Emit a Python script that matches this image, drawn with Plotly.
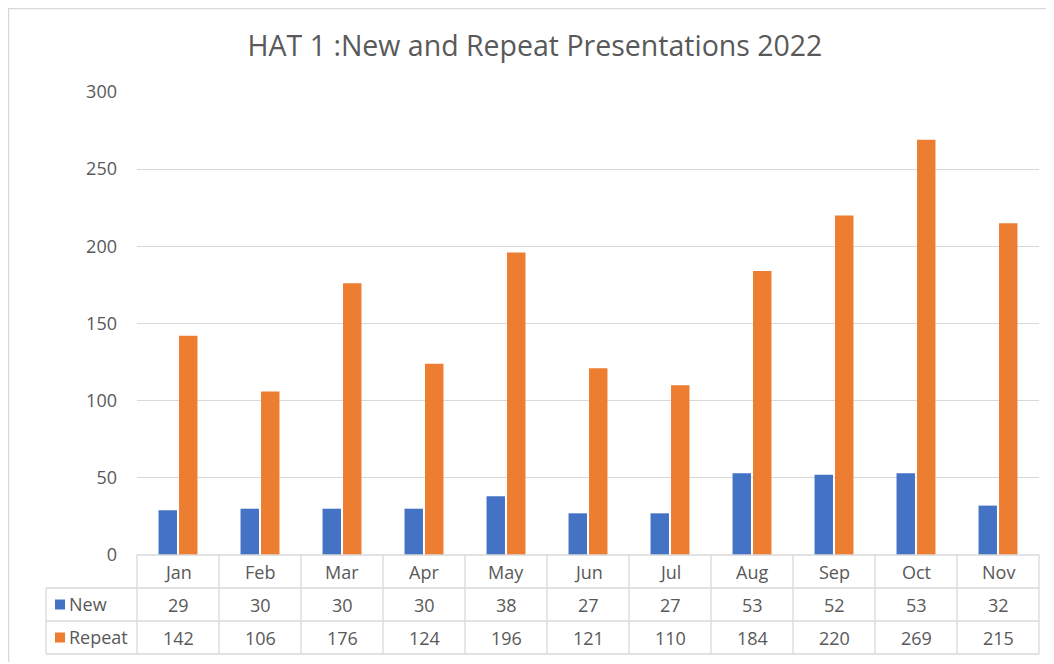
import plotly.graph_objects as go

months = ["Jan", "Feb", "Mar", "Apr", "May", "Jun", "Jul", "Aug", "Sep", "Oct", "Nov"]
new_vals = [29, 30, 30, 30, 38, 27, 27, 53, 52, 53, 32]
repeat_vals = [142, 106, 176, 124, 196, 121, 110, 184, 220, 269, 215]
series_names = ["New", "Repeat"]
colors = ["#4472C4", "#ED7D31"]
title_text = "HAT 1 :New and Repeat Presentations 2022"

FONT = "Open Sans, Lato, sans-serif"
TXT = "#595959"
GRID = "#D9D9D9"

OFF = 8  # default page body margin
W, H = 1044, 654
L = 137 - OFF
T = 92 - OFF
R = W - (1039 - OFF)
B = H - (555 - OFF)
pw = W - L - R
ph = H - T - B

def px_x(x):  # screen px -> paper
    return (x - OFF - L) / pw

def px_y(y):
    return (H - B - (y - OFF)) / ph

fig = go.Figure()
for name, vals, c in zip(series_names, [new_vals, repeat_vals], colors):
    fig.add_trace(go.Bar(x=months, y=vals, name=name, marker=dict(color=c, line=dict(width=0))))

shapes = []
annotations = []
n = len(months)
row_h = 33
y0 = 555
rows_y = [y0, y0 + row_h, y0 + 2 * row_h, y0 + 3 * row_h]

# outer chart border (left and top visible)
shapes.append(dict(type="rect", xref="paper", yref="paper",
                   x0=px_x(8.6), x1=px_x(1200), y0=px_y(900), y1=px_y(8.6),
                   line=dict(color=GRID, width=1.3), layer="below"))

# horizontal table lines
for i, yy in enumerate(rows_y):
    x_start = 137 if i == 0 else 46
    shapes.append(dict(type="line", xref="paper", yref="paper",
                       x0=px_x(x_start), x1=1, y0=px_y(yy), y1=px_y(yy),
                       line=dict(color=GRID, width=1.3)))
# vertical table lines
shapes.append(dict(type="line", xref="paper", yref="paper",
                   x0=px_x(46), x1=px_x(46), y0=px_y(rows_y[1]), y1=px_y(rows_y[3]),
                   line=dict(color=GRID, width=1.3)))
for k in range(n + 1):
    xx = k / n
    shapes.append(dict(type="line", xref="paper", yref="paper",
                       x0=xx, x1=xx, y0=px_y(rows_y[0]), y1=px_y(rows_y[3]),
                       line=dict(color=GRID, width=1.3)))

# table text
for i, m in enumerate(months):
    xc = (i + 0.5) / n
    for r_i, txt in enumerate([m, str(new_vals[i]), str(repeat_vals[i])]):
        yc = px_y(rows_y[r_i] + row_h / 2)
        annotations.append(dict(x=xc, y=yc, xref="paper", yref="paper", text=txt,
                                showarrow=False, font=dict(size=18, color=TXT, family=FONT),
                                xanchor="center", yanchor="middle"))

# legend keys in table
for r_i, (name, c) in enumerate(zip(series_names, colors)):
    yc_px = rows_y[r_i + 1] + row_h / 2
    shapes.append(dict(type="rect", xref="paper", yref="paper",
                       x0=px_x(55), x1=px_x(65), y0=px_y(yc_px + 5), y1=px_y(yc_px - 5),
                       fillcolor=c, line=dict(width=0)))
    annotations.append(dict(x=px_x(67), y=px_y(yc_px - 1), xref="paper", yref="paper", text=name,
                            showarrow=False, font=dict(size=18, color=TXT, family=FONT),
                            xanchor="left", yanchor="middle"))

fig.update_layout(
    width=W, height=H,
    margin=dict(l=L, r=R, t=T, b=B, pad=0),
    paper_bgcolor="white", plot_bgcolor="white",
    title=dict(text=title_text, x=(535 - OFF) / W, xanchor="center", y=1 - (46 - OFF) / H, yanchor="middle",
               font=dict(size=28.5, color=TXT, family=FONT)),
    showlegend=False,
    barmode="group", bargap=0.5, bargroupgap=0.1,
    font=dict(family=FONT, color=TXT),
    shapes=shapes, annotations=annotations,
)
fig.update_xaxes(showticklabels=False, showgrid=False, zeroline=False, showline=False,
                 range=[-0.5, n - 0.5])
fig.update_yaxes(range=[0, 300], dtick=50, showgrid=True, gridcolor=GRID, gridwidth=1.3,
                 zeroline=False, showline=False, ticks="",
                 tickfont=dict(size=18, color=TXT, family=FONT), ticklabelstandoff=19)

fig.write_html("out.html")
